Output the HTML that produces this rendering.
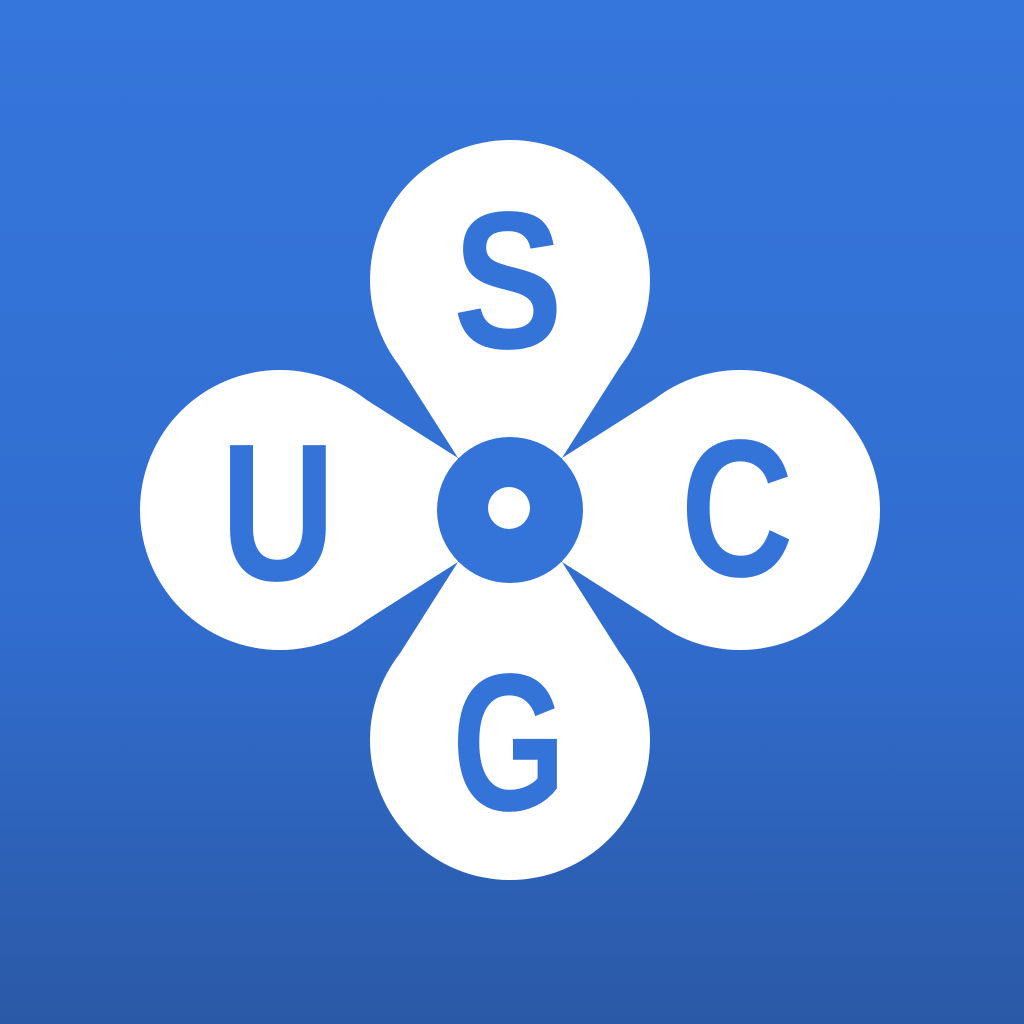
<!DOCTYPE html>
<html><head><meta charset="utf-8"><style>
html,body{margin:0;padding:0;width:1024px;height:1024px;overflow:hidden}
svg{display:block}
text{font-family:"Liberation Sans",sans-serif;font-weight:bold;fill:#3474d9;text-anchor:middle}
</style></head><body>
<svg width="1024" height="1024" viewBox="0 0 1024 1024">
<defs><linearGradient id="bg" x1="0" y1="0" x2="0" y2="1">
<stop offset="0" stop-color="#3576dc"/><stop offset="0.6" stop-color="#316dcf"/><stop offset="1" stop-color="#2a59a6"/></linearGradient></defs>
<rect width="1024" height="1024" fill="url(#bg)"/>
<g fill="#fff">
<g><circle cx="510" cy="280" r="140"/><polygon points="393.5,356.5 626.5,356.5 562,458 458,458"/></g>
<g transform="rotate(90 510 510)"><circle cx="510" cy="280" r="140"/><polygon points="393.5,356.5 626.5,356.5 562,458 458,458"/></g>
<g transform="rotate(180 510 510)"><circle cx="510" cy="280" r="140"/><polygon points="393.5,356.5 626.5,356.5 562,458 458,458"/></g>
<g transform="rotate(270 510 510)"><circle cx="510" cy="280" r="140"/><polygon points="393.5,356.5 626.5,356.5 562,458 458,458"/></g>
</g>
<circle cx="510" cy="510" r="73" fill="#3474d9"/>
<circle cx="509" cy="508" r="21" fill="#fff"/>
<text x="508" y="348" font-size="196" textLength="110" lengthAdjust="spacingAndGlyphs">S</text>
<text x="278" y="580" font-size="196" textLength="115" lengthAdjust="spacingAndGlyphs">U</text>
<text x="737" y="576" font-size="196" textLength="113" lengthAdjust="spacingAndGlyphs">C</text>
<text x="509" y="810" font-size="196" textLength="114" lengthAdjust="spacingAndGlyphs">G</text>
</svg>
</body></html>
